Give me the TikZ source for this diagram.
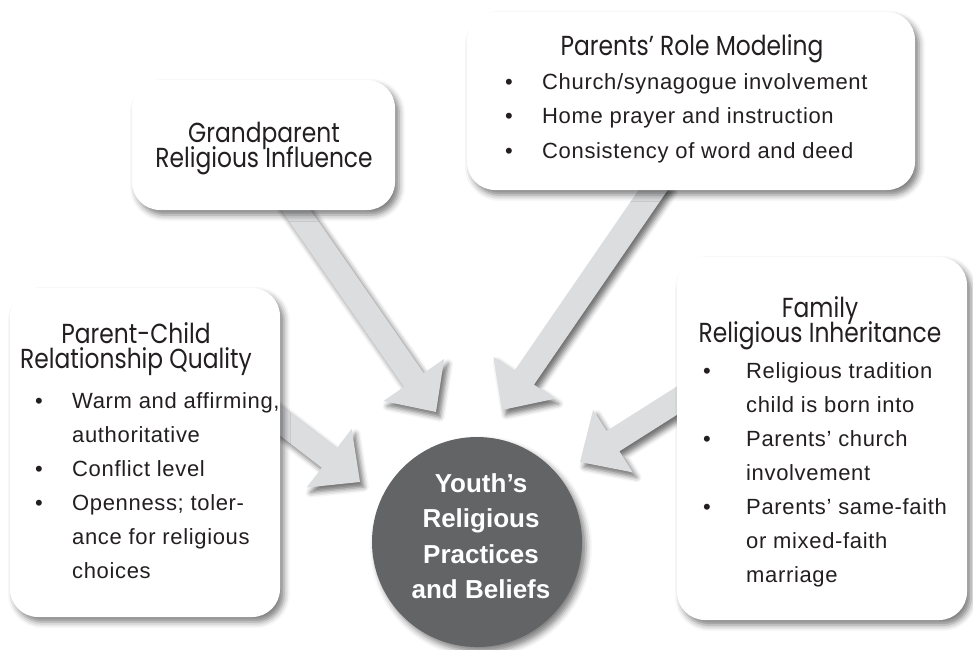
\documentclass[tikz,border=0pt]{standalone}
\usepackage{fontspec}
\setmainfont{Liberation Sans}
\newfontfamily\titlefont{Poppins}[FakeStretch=0.85]
\newfontfamily\bodyfont{Liberation Sans}[LetterSpace=3]
\usetikzlibrary{calc,shadows.blur}

\definecolor{arrowgray}{HTML}{DCDDDF}
\definecolor{circgray}{HTML}{636466}
\definecolor{ink}{HTML}{231F20}

\newcommand\ttlfont{\titlefont\fontsize{27.5}{25}\selectfont\setlength{\lineskiplimit}{-100pt}\setlength{\lineskip}{0pt}}

\tikzset{
  box/.style={fill=white, rounded corners=28pt, inner sep=0pt,
    blur shadow={shadow xshift=4pt, shadow yshift=-5pt, shadow blur radius=6pt, shadow opacity=50}},
  ttl/.style={anchor=base, inner sep=0pt, align=center, font=\ttlfont, text=ink},
  bul/.style={anchor=base, inner sep=0pt, font=\bodyfont\fontsize{22}{34}\selectfont, text=ink},
  itm/.style={anchor=base west, inner sep=0pt, align=left, font=\bodyfont\fontsize{22}{34}\selectfont, text=ink},
  fatarrow/.style={fill=arrowgray,
    blur shadow={shadow xshift=4pt, shadow yshift=-5pt, shadow blur radius=5pt, shadow opacity=55}},
  core/.style={circle, fill=circgray, inner sep=0pt, minimum size=210pt,
    blur shadow={shadow xshift=4pt, shadow yshift=-5pt, shadow blur radius=6pt, shadow opacity=50}},
  coretext/.style={inner sep=0pt, align=center, text=white,
    font=\bfseries\fontsize{26}{35.5}\selectfont},
}

\newcommand\fatarr[2]{%
  \coordinate (#2b) at ($(#2)!39pt!(#1)$);
  \fill[fatarrow] ($(#1)!12pt!90:(#2)$) -- ($(#2b)!12pt!90:(#2)$) -- ($(#2b)!37pt!90:(#2)$)
    -- (#2) -- ($(#2b)!37pt!-90:(#2)$) -- ($(#2b)!12pt!-90:(#2)$) -- ($(#1)!12pt!-90:(#2)$) -- cycle;
}

\begin{document}
\begin{tikzpicture}[x=1pt,y=-1pt]
\useasboundingbox (0,0) rectangle (973,649);

% arrow end points
\coordinate (gpS) at (282,190);   \coordinate (gpT) at (436,412);
\coordinate (prmS) at (660,180);  \coordinate (prmT) at (502,410);
\coordinate (pcS) at (260,405);   \coordinate (pcT) at (360,482);
\coordinate (famS) at (700,386);  \coordinate (famT) at (580,462);

\fatarr{gpS}{gpT}
\fatarr{prmS}{prmT}
\fatarr{pcS}{pcT}
\fatarr{famS}{famT}

% boxes
\node[box, minimum width=263pt, minimum height=130pt] (gp) at (263.5,145) {};
\node[box, minimum width=448pt, minimum height=178pt] (prm) at (691,101) {};
\node[box, minimum width=270pt, minimum height=329pt] (pc) at (145,452.5) {};
\node[box, minimum width=290pt, minimum height=363pt] (fam) at (822,438.5) {};

% core circle
\node[core] (youth) at (477,542) {};
\node[coretext] (youthtxt) at (481,536) {Youth’s\\Religious\\Practices\\and Beliefs};

% Grandparent (base anchor = last line)
\node[ttl] (gpt) at (264,167) {Grandparent\\Religious Influence};

% Parents' Role Modeling
\node[ttl] (prmt) at (692,55) {Parents’ Role Modeling};
\node[bul] (prmb1) at (509,89) {•};
\node[itm] (prmi1) at (542,89) {Church/synagogue involvement};
\node[bul] (prmb2) at (509,123.5) {•};
\node[itm] (prmi2) at (542,123.5) {Home prayer and instruction};
\node[bul] (prmb3) at (509,158) {•};
\node[itm] (prmi3) at (542,158) {Consistency of word and deed};

% Parent-Child (multi-line items: base anchor = last line)
\node[ttl] (pct) at (136,368) {Parent-Child\\Relationship Quality};
\node[bul] (pcb1) at (39,408) {•};
\node[itm] (pci1) at (72,442) {Warm and affirming,\\authoritative};
\node[bul] (pcb2) at (39,476) {•};
\node[itm] (pci2) at (72,476) {Conflict level};
\node[bul] (pcb3) at (39,510) {•};
\node[itm] (pci3) at (72,578) {Openness; toler-\\ance for religious\\choices};

% Family
\node[ttl] (famt) at (820,342) {Family\\Religious Inheritance};
\node[bul] (famb1) at (707,378) {•};
\node[itm] (fami1) at (746,412) {Religious tradition\\child is born into};
\node[bul] (famb2) at (707,446) {•};
\node[itm] (fami2) at (746,480) {Parents’ church\\involvement};
\node[bul] (famb3) at (707,514) {•};
\node[itm] (fami3) at (746,582) {Parents’ same-faith\\or mixed-faith\\marriage};
\end{tikzpicture}
\end{document}
